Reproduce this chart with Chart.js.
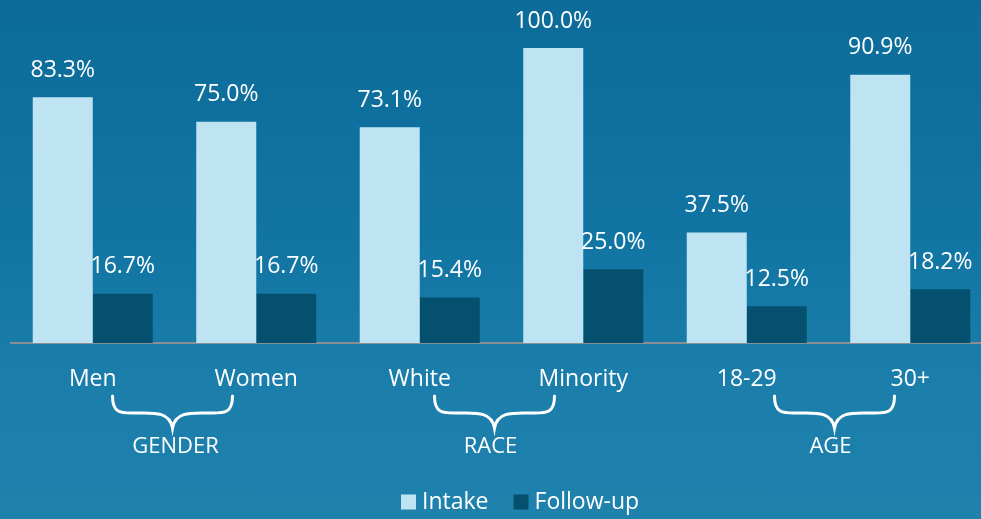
<!DOCTYPE html>
<html>
<head>
<meta charset="utf-8">
<script src="https://cdn.jsdelivr.net/npm/chart.js@4.4.0/dist/chart.umd.min.js"></script>
<style>
  html, body { margin: 0; padding: 0; overflow: hidden; }
  body {
    width: 981px; height: 519px;
    background: linear-gradient(180deg, #0c6b99 0%, #1175a3 45%, #1b7eab 75%, #1f82ad 100%);
  }
  canvas { display: block; }
</style>
</head>
<body>
<canvas id="chart" width="992" height="519"></canvas>
<script>
const categories = ['Men', 'Women', 'White', 'Minority', '18-29', '30+'];
const intake = [83.3, 75.0, 73.1, 100.0, 37.5, 90.9];
const followUp = [16.7, 16.7, 15.4, 25.0, 12.5, 18.2];
const groups = ['GENDER', 'RACE', 'AGE'];

const FONT = '"Open Sans", "DejaVu Sans", sans-serif';

// value labels above each bar
const valueLabels = {
  id: 'valueLabels',
  afterDatasetsDraw(chart) {
    const ctx = chart.ctx;
    ctx.save();
    ctx.fillStyle = '#ffffff';
    ctx.font = '23px ' + FONT;
    ctx.textAlign = 'center';
    ctx.textBaseline = 'middle';
    chart.data.datasets.forEach((ds, i) => {
      chart.getDatasetMeta(i).data.forEach((bar, j) => {
        ctx.fillText(ds.data[j].toFixed(1) + '%', bar.x, bar.y - 27);
      });
    });
    ctx.restore();
  }
};

// curly braces + group names under category pairs
const braceShift = [-2, -7, 6];
const labelShift = [1, -11, 2];
const groupBraces = {
  id: 'groupBraces',
  afterDraw(chart) {
    const ctx = chart.ctx;
    const x = chart.scales.x;
    ctx.save();
    ctx.strokeStyle = '#ffffff';
    ctx.lineWidth = 3;
    ctx.lineCap = 'round';
    ctx.fillStyle = '#ffffff';
    ctx.font = '22px ' + FONT;
    ctx.textAlign = 'center';
    ctx.textBaseline = 'middle';
    groups.forEach((g, k) => {
      const center = (x.getPixelForValue(k * 2) + x.getPixelForValue(k * 2 + 1)) / 2;
      const mid = center + braceShift[k];
      const l = mid - 60, r = mid + 60;
      const top = 396, midY = 413, tip = 428;
      ctx.beginPath();
      ctx.moveTo(l, top);
      ctx.bezierCurveTo(l, midY + 2, l + 10, midY, l + 25, midY);
      ctx.bezierCurveTo(mid - 20, midY, mid - 3, midY - 2, mid, tip);
      ctx.bezierCurveTo(mid + 3, midY - 2, mid + 20, midY, r - 25, midY);
      ctx.bezierCurveTo(r - 10, midY, r, midY + 2, r, top);
      ctx.stroke();
      ctx.fillText(g, center + labelShift[k], 447);
    });
    ctx.restore();
  }
};

// legend drawn from dataset labels/colours
const bottomLegend = {
  id: 'bottomLegend',
  afterDraw(chart) {
    const ctx = chart.ctx;
    ctx.save();
    ctx.font = '23px ' + FONT;
    ctx.textBaseline = 'middle';
    const y = 502;
    let cx = 401;
    chart.data.datasets.forEach(ds => {
      ctx.fillStyle = ds.backgroundColor;
      ctx.fillRect(cx, y - 7.5, 15, 15);
      ctx.fillStyle = '#ffffff';
      ctx.textAlign = 'left';
      ctx.fillText(ds.label, cx + 21, y);
      cx += 21 + ctx.measureText(ds.label).width + 25;
    });
    ctx.restore();
  }
};

new Chart(document.getElementById('chart'), {
  type: 'bar',
  data: {
    labels: categories,
    datasets: [
      { label: 'Intake', data: intake, backgroundColor: '#bee4f4', borderWidth: 0 },
      { label: 'Follow-up', data: followUp, backgroundColor: '#05506e', borderWidth: 0 }
    ]
  },
  options: {
    responsive: false,
    animation: false,
    layout: { padding: { top: 48, left: 11, right: 0, bottom: 0 } },
    plugins: {
      legend: { display: false },
      tooltip: { enabled: false }
    },
    datasets: {
      bar: { barPercentage: 1.0, categoryPercentage: 0.734 }
    },
    scales: {
      y: { display: false, min: 0, max: 100 },
      x: {
        grid: { display: false },
        border: { display: true, color: '#8a8f93', width: 2 },
        ticks: { color: '#ffffff', font: { size: 23, family: FONT }, padding: 15, maxRotation: 0 },
        afterFit(scale) { scale.height = 176; }
      }
    }
  },
  plugins: [valueLabels, groupBraces, bottomLegend]
});
</script>
</body>
</html>
